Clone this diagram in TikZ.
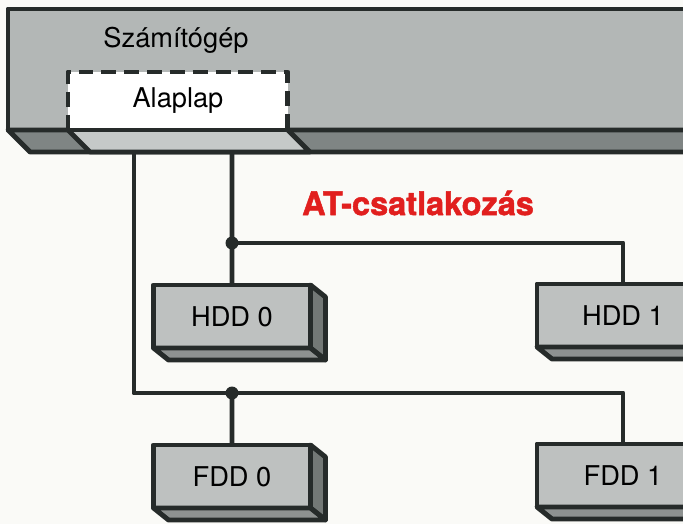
\documentclass[tikz,border=0pt]{standalone}
\usepackage{fontspec}
\setmainfont{TeX Gyre Heros}
\newfontfamily\atfont[BoldFeatures={FakeBold=1.5}]{TeX Gyre Heros}
\usetikzlibrary{positioning}

\definecolor{ink}{HTML}{262B2A}
\definecolor{paper}{HTML}{FAFAF7}
\definecolor{casegray}{HTML}{B3B7B6}
\definecolor{slabgray}{HTML}{7F8584}
\definecolor{slablight}{HTML}{C5C9C8}
\definecolor{devfront}{HTML}{BEC1C0}
\definecolor{devbottom}{HTML}{8E9291}
\definecolor{devside}{HTML}{737876}
\definecolor{atred}{HTML}{E11F1E}

\begin{document}
\begin{tikzpicture}[x=0.02cm, y=-0.02cm, line join=round,
    inkline/.style={draw=ink, line width=2.8pt},
    device/.style={inkline, fill=devfront, outer sep=0pt, inner sep=0pt,
      anchor=north west, minimum height=1.26cm,
      font=\fontsize{15.5}{18}\selectfont},
    cable/.style={draw=ink, line width=2.8pt},
    dot/.style={circle, fill=ink, inner sep=0pt, minimum size=0.26cm}]
  \path[use as bounding box] (0,0) rectangle (683,524);
  \clip (0,0) rectangle (683,524);
  \fill[paper] (0,0) rectangle (683,524);

  % Computer
  \node[device, fill=casegray, minimum width=14cm, minimum height=2.42cm] (pc) at (8,9) {};
  \draw[inkline, fill=slabgray] (pc.south west) -- ++(22,22)
    -- ([shift={(22,22)}]pc.south east) -- (pc.south east) -- cycle;
  \node[fill=white, inner sep=0pt, outer sep=0pt, anchor=north west,
    minimum width=4.4cm, minimum height=1.16cm,
    font=\fontsize{15.5}{18}\selectfont] (board) at (68,72) {Alaplap};
  \draw[inkline, dash pattern=on 8.5pt off 4.5pt]
    (board.south west) -- (board.north west) -- (board.north east) -- (board.south east);
  \draw[inkline, fill=slablight] (board.south west) -- ++(22,22)
    -- ([shift={(22,22)}]board.south east) -- (board.south east);
  \draw[inkline] (pc.south west) -- (pc.south east);
  \node[font=\fontsize{15.5}{18}\selectfont] (pclabel) at (176,40) {Számítógép};

  % Title
  \node[font=\atfont\bfseries\fontsize{18.5}{20}\selectfont, text=atred] (atlabel)
    at (418,203) {AT-csatlakozás};

  % Drives
  \foreach \n/\x/\y/\w/\t in {hdd0/153.5/285/3.14/HDD 0, hdd1/537/284/3.44/HDD 1,
      fdd0/153.5/445/3.14/FDD 0, fdd1/537/444/3.44/FDD 1} {
    \node[device, minimum width=\w cm] (\n) at (\x,\y) {\t};
    \draw[inkline, fill=devside] (\n.north east) -- ++(15,12) -- ++(0,63)
      -- (\n.south east) -- cycle;
    \draw[inkline, fill=devbottom] (\n.south west) -- ++(15,12)
      -- ([shift={(15,12)}]\n.south east) -- (\n.south east) -- cycle;
  }

  % Cables
  \coordinate (portA) at (134,152);
  \coordinate (portB) at (232,152);
  \node[dot] (hddtap) at (232,243) {};
  \node[dot] (fddtap) at (232,393) {};
  \draw[cable] (portB) -- (hddtap.center) -- (hdd0.north);
  \draw[cable] (hddtap.center) -| (hdd1.north);
  \draw[cable] (portA) |- (fddtap.center) -| (fdd1.north);
  \draw[cable] (fddtap.center) -- (fdd0.north);
\end{tikzpicture}
\end{document}
